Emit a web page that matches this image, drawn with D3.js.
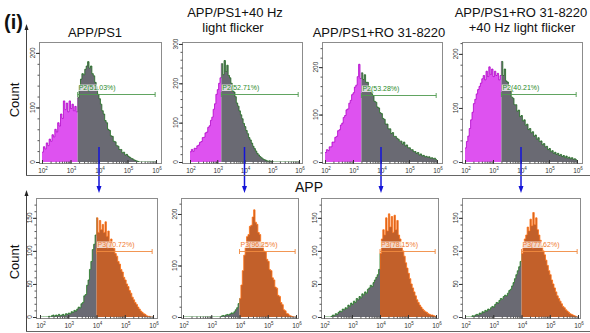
<!DOCTYPE html>
<html>
<head>
<meta charset="utf-8">
<script src="https://cdn.jsdelivr.net/npm/d3@7"></script>
<style>
  body { margin: 0; background: #fff; }
  text { font-family: "Liberation Sans", Arial, sans-serif; }
</style>
</head>
<body>
<svg id="chart" width="590" height="333"></svg>
<script>
// titles and gate labels
const panelTitles = [["APP/PS1"], ["APP/PS1+40 Hz", "light flicker"], ["APP/PS1+RO 31-8220"], ["APP/PS1+RO 31-8220", "+40 Hz light flicker"]];
const topGateLabels = ["P2(51.03%)", "P2(52.71%)", "P2(53.28%)", "P2(40.21%)"];
const bottomGateLabels = ["P3(70.72%)", "P3(96.25%)", "P3(78.15%)", "P3(77.62%)"];

// x axis: log decades, histogram bins of 0.05 decade from 10^2
const xTickExps = [2, 3, 4, 5, 6];
const binStartExp = 2, binStepExp = 0.05;

// gates (log10 start) and gate bar level (counts)
const topGateExp = [3.25, 3.15, 3.3, 3.3];
const bottomGateExp = [4, 4, 4, 4];
const topGateCount = [124, 172, 141, 126];
const bottomGateCount = [100, 128, 100, 100];

// y axes
const topYMax = [220, 305, 253, 222];
const bottomYMax = [180, 231, 180, 180];
const topYTicks = [[0, 100, 200], [0, 100, 200, 300], [0, 100, 200], [0, 100, 200]];
const bottomYTicks = [[0, 50, 100, 150], [0, 100, 200], [0, 50, 100, 150], [0, 50, 100, 150]];
const topYMinor = [20, 20, 20, 20];
const bottomYMinor = [10, 20, 10, 10];

// top row counts (P2 gate)
const countsTop1 = [18,28,24,35,30,42,38,50,46,60, 55,72,66,88,80,112,96,108,92,112,
  98,106,94,102,92,118,140,152,162,160, 170,176,184,172,176,162,158,146,138,124,
  116,106,94,88,76,72,60,58,48,47, 38,37,30,29,23,23,17,18,13,14,
  11,9,7,6,4,3,2,1,0,0, 0,0,0,0,0,0,0,0,0,0];
const countsTop2 = [26,32,27,35,34,41,43,50,52,62, 63,74,76,88,92,106,114,134,148,172,
  184,200,214,250,222,258,230,246,220,214, 200,190,178,166,150,142,130,120,110,98,
  90,80,72,62,56,48,40,34,28,22, 18,14,11,8,6,5,3,2,3,1,
  1,0,0,0,0,0,0,0,0,0, 0,0,0,0,0,0,0,0,0,0];
const countsTop3 = [20,26,24,32,32,42,42,52,54,66, 68,78,82,94,98,110,112,124,130,142,
  146,158,162,180,206,176,188,174,184,168, 168,156,152,144,140,128,126,116,114,104,
  102,92,90,80,80,70,70,60,62,54, 54,50,48,44,44,38,42,34,36,30,
  30,26,26,22,22,18,20,15,17,13, 14,11,12,10,11,8,9,7,8,5];
const countsTop4 = [26,38,48,62,78,92,108,116,126,134, 140,146,154,160,152,168,158,176,162,172,
  158,168,160,164,152,160,186,160,172,150, 148,134,132,120,118,106,106,94,96,84,
  86,76,78,68,70,60,62,54,56,48, 50,42,45,38,39,32,34,28,29,23,
  25,19,21,16,18,14,16,12,14,10, 12,8,11,7,9,6,8,5,6,4];

// bottom row counts (APP, P3 gate)
const countsBottom1 = [0,0,0,0,0,0,1,0,2,3, 1,3,2,4,2,3,4,2,5,4,
  6,5,8,7,10,9,12,15,14,20, 22,32,34,48,56,72,84,102,110,124,
  150,128,146,132,140,128,144,122,130,114, 118,106,104,96,92,84,80,72,68,60,
  56,50,46,40,36,30,26,22,19,15, 12,9,7,5,4,2,1,1,0,0];
const countsBottom2 = [0,0,0,0,0,0,0,0,0,0, 0,0,0,0,0,0,0,0,0,0,
  0,0,0,0,0,0,0,2,3,2, 4,5,4,6,8,7,10,14,18,26,
  36,62,90,120,136,156,160,176,178,194, 208,184,180,164,160,144,142,128,126,112,
  108,92,90,76,72,58,56,42,40,28, 24,14,12,7,6,3,2,1,0,0];
const countsBottom3 = [0,0,0,0,0,1,3,2,5,4, 7,9,8,12,11,14,13,18,16,21,
  19,24,22,28,26,31,29,35,33,38, 36,42,44,48,46,52,56,60,64,72,
  96,118,132,124,150,130,156,136,152,128, 154,132,146,124,118,108,100,92,82,74,
  66,58,50,44,38,32,26,22,18,15, 12,10,8,7,5,4,3,3,2,1];
const countsBottom4 = [0,0,0,0,0,2,1,3,4,3, 6,5,8,7,10,9,12,11,14,16,
  15,19,22,21,25,28,27,31,33,32, 36,40,42,47,52,58,64,70,76,84,
  96,108,118,124,136,130,148,138,158,140, 150,132,124,116,108,100,94,86,78,70,
  64,56,50,44,38,32,28,24,20,16, 14,11,9,7,5,4,3,2,1,0];

const svg = d3.select("#chart");

const topLayout = [
  {l: 39, r: 161, x0: 42, x1: 156},
  {l: 182, r: 302, x0: 190, x1: 299},
  {l: 322, r: 442, x0: 325, x1: 437},
  {l: 462, r: 582, x0: 465, x1: 577}
];
const bottomLayout = [
  {l: 36, r: 157, x0: 40, x1: 153},
  {l: 181, r: 298, x0: 183, x1: 296},
  {l: 321, r: 438, x0: 324, x1: 436},
  {l: 462, r: 580, x0: 465, x1: 578}
];

const rows = [
  {layout: topLayout, top: 42, y0: 162,
   counts: [countsTop1, countsTop2, countsTop3, countsTop4],
   yMax: topYMax, yTicks: topYTicks, yMinor: topYMinor,
   gateExp: topGateExp, gateCount: topGateCount, labels: topGateLabels,
   col: {leftFill: "#de52f0", leftStroke: "#b000c8", rightFill: "#6a6a73", rightStroke: "#1d6b1d",
         gate: "#4f9a4f", label: "#2a8a2a"}},
  {layout: bottomLayout, top: 198, y0: 317,
   counts: [countsBottom1, countsBottom2, countsBottom3, countsBottom4],
   yMax: bottomYMax, yTicks: bottomYTicks, yMinor: bottomYMinor,
   gateExp: bottomGateExp, gateCount: bottomGateCount, labels: bottomGateLabels,
   col: {leftFill: "#6a6a73", leftStroke: "#1f7a1f", rightFill: "#c2602a", rightStroke: "#ff6e10",
         gate: "#f08a40", label: "#f07a30"}}
];

const arrowX = [];

rows.forEach((row, r) => {
  row.layout.forEach((L, i) => {
    const g = svg.append("g");
    const x = d3.scaleLog().domain([1e2, 1e6]).range([L.x0, L.x1]);
    const y = d3.scaleLinear().domain([0, row.yMax[i]]).range([row.y0, row.top]);
    const counts = row.counts[i];
    const pts = counts.map((c, k) => [10 ** (binStartExp + k * binStepExp), c]);
    pts.push([10 ** (binStartExp + counts.length * binStepExp), counts[counts.length - 1]]);

    const area = d3.area().x(d => x(d[0])).y0(y(0)).y1(d => y(d[1])).curve(d3.curveStepAfter);
    const line = d3.line().x(d => x(d[0])).y(d => y(d[1])).curve(d3.curveStepAfter);
    const gx = x(10 ** row.gateExp[i]);

    // split histogram at the gate
    [[L.l, gx, row.col.leftFill, row.col.leftStroke], [gx, L.r, row.col.rightFill, row.col.rightStroke]]
      .forEach(([a, b, f, s], j) => {
        const id = "clip" + r + "_" + i + "_" + j;
        svg.append("clipPath").attr("id", id)
          .append("rect").attr("x", a).attr("y", row.top).attr("width", b - a).attr("height", row.y0 - row.top);
        const h = g.append("g").attr("clip-path", "url(#" + id + ")");
        h.append("path").attr("d", area(pts)).attr("fill", f);
        h.append("path").attr("d", line(pts)).attr("fill", "none").attr("stroke", s).attr("stroke-width", 0.8);
      });

    // frame
    g.append("rect")
      .attr("x", L.l + 0.5).attr("y", row.top + 0.5)
      .attr("width", L.r - L.l).attr("height", row.y0 - row.top + 1)
      .attr("fill", "none").attr("stroke", "#8c8c8c");

    // x ticks
    const xb = row.y0 + 1.5;
    g.append("g").attr("transform", "translate(0," + xb + ")")
      .call(d3.axisBottom(x).tickValues(x.ticks()).tickSize(-2).tickSizeOuter(0).tickFormat(""))
      .call(a => a.select(".domain").remove())
      .call(a => a.selectAll("line").attr("stroke", "#555"));
    g.append("g").attr("transform", "translate(0," + xb + ")")
      .call(d3.axisBottom(x).tickValues(xTickExps.map(e => 10 ** e)).tickSize(-3.5).tickSizeOuter(0).tickFormat(""))
      .call(a => a.select(".domain").remove())
      .call(a => a.selectAll("line").attr("stroke", "#333"));
    xTickExps.forEach(e => {
      const t = g.append("text").attr("x", x(10 ** e) + 1).attr("y", row.y0 + 10.5)
        .attr("text-anchor", "middle").attr("font-size", 6.5).attr("fill", "#333");
      t.append("tspan").text("10");
      t.append("tspan").attr("dy", -2.5).attr("font-size", 4.5).text(e);
    });

    // y ticks
    g.append("g").attr("transform", "translate(" + (L.l + 0.5) + ",0)")
      .call(d3.axisLeft(y).tickValues(d3.range(0, row.yMax[i], row.yMinor[i])).tickSize(2).tickSizeOuter(0).tickFormat(""))
      .call(a => a.select(".domain").remove())
      .call(a => a.selectAll("line").attr("stroke", "#555"));
    g.append("g").attr("transform", "translate(" + (L.l + 0.5) + ",0)")
      .call(d3.axisLeft(y).tickValues(row.yTicks[i]).tickSize(3.5).tickSizeOuter(0).tickFormat(""))
      .call(a => a.select(".domain").remove())
      .call(a => a.selectAll("line").attr("stroke", "#333"));
    row.yTicks[i].forEach(v => {
      g.append("text")
        .attr("transform", "translate(" + (L.l - 4.5) + "," + y(v) + ") rotate(-90)")
        .attr("text-anchor", "middle").attr("font-size", 6.5).attr("fill", "#333")
        .text(v);
    });

    // gate bar
    const gy = Math.round(y(row.gateCount[i])) + 0.5;
    const ge = x(10 ** 5.97);
    g.append("line").attr("x1", gx).attr("x2", ge).attr("y1", gy).attr("y2", gy)
      .attr("stroke", row.col.gate).attr("stroke-width", 0.9);
    [gx, ge].forEach(cx => {
      g.append("line").attr("x1", cx).attr("x2", cx).attr("y1", gy - 2.5).attr("y2", gy + 2.5)
        .attr("stroke", row.col.gate).attr("stroke-width", 0.9);
    });
    const lab = g.append("text").attr("x", gx + 1).attr("y", gy - 5)
      .attr("font-size", 7).attr("fill", row.col.label).text(row.labels[i]);
    const bb = lab.node().getBBox();
    g.append("rect")
      .attr("x", bb.x - 0.5).attr("y", bb.y + 1).attr("width", bb.width + 1).attr("height", bb.height - 1.5)
      .attr("fill", "#fff").attr("opacity", 0.75);
    lab.raise();

    if (r === 0) arrowX.push(x(1e4));
  });
});

// panel titles
const titleX = [[95], [235, 233], [379], [521, 522]];
const titleY = [[37], [17, 32], [37], [17, 32]];
panelTitles.forEach((lines, i) => {
  lines.forEach((s, k) => {
    svg.append("text").attr("x", titleX[i][k]).attr("y", titleY[i][k])
      .attr("text-anchor", "middle").attr("font-size", 13).attr("fill", "#111").text(s);
  });
});

// blue arrows from top to bottom panels
arrowX.forEach(bx => {
  svg.append("line").attr("x1", bx).attr("x2", bx).attr("y1", 147).attr("y2", 187)
    .attr("stroke", "#1414d8").attr("stroke-width", 1.5);
  svg.append("path").attr("d", `M${bx - 2.5},186 L${bx + 2.5},186 L${bx},193 Z`).attr("fill", "#1414d8");
});

// row axes (L shape with arrow)
[[24, 175], [190, 331]].forEach(([tip, base]) => {
  svg.append("line").attr("x1", 26.5).attr("x2", 26.5).attr("y1", tip + 4).attr("y2", base)
    .attr("stroke", "#444");
  svg.append("path").attr("d", `M24.5,${tip + 6} L28.5,${tip + 6} L26.5,${tip} Z`).attr("fill", "#222");
  svg.append("line").attr("x1", 26).attr("x2", 590).attr("y1", base + 0.5).attr("y2", base + 0.5)
    .attr("stroke", "#666");
});

// labels
svg.append("text").attr("x", 4).attr("y", 29).attr("font-size", 20).attr("font-weight", "bold")
  .attr("fill", "#111").text("(i)");
[100, 262].forEach(cy => {
  svg.append("text").attr("transform", "translate(19," + cy + ") rotate(-90)")
    .attr("text-anchor", "middle").attr("font-size", 13).attr("fill", "#111").text("Count");
});
svg.append("text").attr("x", 309).attr("y", 192).attr("text-anchor", "middle")
  .attr("font-size", 14).attr("fill", "#111").text("APP");
</script>
</body>
</html>
